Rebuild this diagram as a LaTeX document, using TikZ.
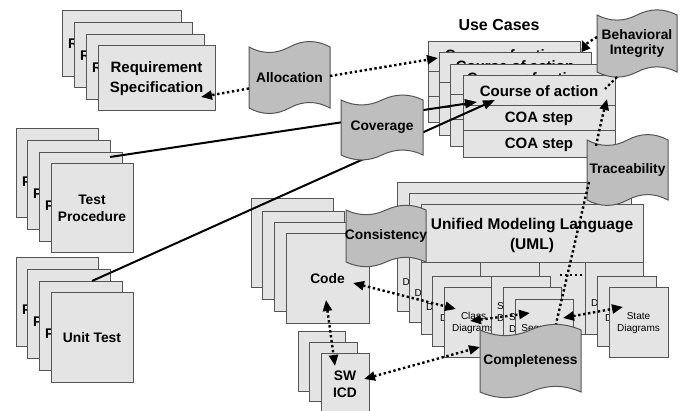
\documentclass[tikz,border=0pt]{standalone}
\usepackage{fontspec}
\setmainfont{Liberation Sans}
\usetikzlibrary{arrows.meta,calc}
\definecolor{sheetfill}{RGB}{228,228,228}
\definecolor{tapefill}{RGB}{190,190,190}
\definecolor{edgegray}{RGB}{85,85,85}
\tikzset{
 sheet/.style={draw=edgegray, fill=sheetfill, line width=1pt, inner sep=0pt, outer sep=0pt, rectangle},
 rowline/.style={draw=edgegray, line width=1pt},
 tapebody/.style={draw=edgegray, fill=tapefill, line width=1pt},
 tapetext/.style={inner sep=0pt, outer sep=0pt, align=center, font=\fontsize{13.8}{15.5}\selectfont\bfseries},
 bigtext/.style={font=\fontsize{15}{20}\selectfont\bfseries, align=center, inner sep=0pt},
 umltext/.style={font=\fontsize{15.5}{20}\selectfont\bfseries, align=center, inner sep=0pt},
 midtext/.style={font=\fontsize{13.8}{17}\selectfont\bfseries, align=center, inner sep=0pt},
 smalltext/.style={font=\fontsize{10}{12}\selectfont, align=center, inner sep=0pt},
 letter/.style={font=\fontsize{14}{14}\selectfont\bfseries, anchor=west, inner sep=0pt},
 dletter/.style={font=\fontsize{10}{10}\selectfont, anchor=west, inner sep=0pt},
 dotline/.style={line width=2.4pt, dash pattern=on 2.4pt off 2.6pt, black},
 dotarrow/.style={dotline, -{Triangle[length=11pt,width=9pt]}},
 dotboth/.style={dotline, {Triangle[length=11pt,width=9pt]}-{Triangle[length=11pt,width=9pt]}},
 solidarrow/.style={line width=2pt, black, -{Triangle[length=12pt,width=9pt]}},
}
% sheet: [style]{name}{x0}{y0}{x1}{y1}{text}
\newcommand\mksheet[7][]{%
 \pgfmathsetmacro\shw{#5-#3}\pgfmathsetmacro\shh{#6-#4}%
 \node[sheet,#1, anchor=north west, minimum width=\shw pt, minimum height=\shh pt] (#2) at (#3,#4) {#7};}
% tape: {name}{x0}{y0}{x1}{y1}{text}
\newcommand\mktape[6]{%
 \pgfmathsetmacro\tpw{#4-#2}\pgfmathsetmacro\tpa{0.06*(#5-#3)}%
 \pgfmathsetmacro\tpxa{#2+\tpw/6}\pgfmathsetmacro\tpxb{#2+\tpw/3}\pgfmathsetmacro\tpxc{#2+\tpw/2}%
 \pgfmathsetmacro\tpxd{#2+2*\tpw/3}\pgfmathsetmacro\tpxe{#2+5*\tpw/6}%
 \pgfmathsetmacro\tpya{#3+2*\tpa}\pgfmathsetmacro\tpyb{#3-2*\tpa}%
 \pgfmathsetmacro\tpyc{#5+2*\tpa}\pgfmathsetmacro\tpyd{#5-2*\tpa}%
 \path[tapebody] (#2,#3) .. controls (\tpxa,\tpya) and (\tpxb,\tpya) .. (\tpxc,#3) .. controls (\tpxd,\tpyb) and (\tpxe,\tpyb) .. (#4,#3) -- (#4,#5) .. controls (\tpxe,\tpyd) and (\tpxd,\tpyd) .. (\tpxc,#5) .. controls (\tpxb,\tpyc) and (\tpxa,\tpyc) .. (#2,#5) -- cycle;
 \pgfmathsetmacro\tph{#5-#3}%
 \node[tapetext, minimum width=\tpw pt, minimum height=\tph pt] (#1) at ({(#2+#4)/2},{(#3+#5)/2}) {#6};}
\begin{document}
\begin{tikzpicture}[x=1pt,y=-1pt]
\useasboundingbox (0,0) rectangle (681,411);

% Requirement Specification stack
\mksheet{r1}{62}{11}{181}{77}{}
\node[letter] (lr1) at (68,44) {R};
\mksheet{r2}{74}{23}{192}{88}{}
\node[letter] (lr2) at (80,56) {R};
\mksheet{r3}{86}{35}{204}{100}{}
\node[letter] (lr3) at (92,68) {R};
\mksheet[bigtext]{r4}{98}{46}{215}{111}{Requirement\\Specification}

% Test Procedure stack
\mksheet{t1}{16}{129}{98}{218}{}
\node[letter] (lt1) at (22,182) {P};
\mksheet{t2}{27}{141}{110}{230}{}
\node[letter] (lt2) at (33,194) {P};
\mksheet{t3}{39}{153}{122}{242}{}
\node[letter] (lt3) at (45,206) {P};
\mksheet[midtext]{t4}{51}{164}{133}{253}{Test\\Procedure}

% Unit Test stack
\mksheet{u1}{16}{258}{98}{347}{}
\node[letter] (lu1) at (22,310) {P};
\mksheet{u2}{27}{270}{110}{359}{}
\node[letter] (lu2) at (33,322) {P};
\mksheet{u3}{39}{282}{122}{371}{}
\node[letter] (lu3) at (45,334) {P};
\mksheet[midtext]{u4}{51}{293}{133}{383}{Unit Test}

% Use cases
\node[font=\fontsize{16}{16}\selectfont\bfseries, inner sep=0pt] (uctitle) at (499,25) {Use Cases};
\mksheet{ucA}{428}{42}{580}{123}{}
\draw[rowline] (428,72) -- (580,72) (428,97) -- (580,97);
\node[bigtext] (cA) at (504,55) {Course of action};
\mksheet{ucB}{439}{53}{591}{136}{}
\draw[rowline] (439,83) -- (591,83) (439,108) -- (591,108);
\node[bigtext] (cB) at (515,66) {Course of action};
\mksheet{ucC}{450}{65}{602}{147}{}
\draw[rowline] (450,95) -- (602,95) (450,120) -- (602,120);
\node[bigtext] (cC) at (526,78) {Course of action};
\mksheet{ucD}{463}{76}{615}{158}{}
\draw[rowline] (463,106) -- (615,106) (463,131) -- (615,131);
\node[bigtext] (coa) at (539,91) {Course of action};
\node[bigtext] (step1) at (539,118.5) {COA step};
\node[bigtext] (step2) at (539,144.5) {COA step};

% Code stack
\mksheet{c1}{251}{199}{333}{288}{}
\mksheet{c2}{262}{212}{344}{300}{}
\mksheet{c3}{274}{223}{356}{312}{}
\mksheet[midtext]{c4}{286}{234}{369}{324}{Code}

% SW ICD stack
\mksheet{s1}{298}{332}{345}{392}{}
\mksheet{s2}{309}{343}{357}{402}{}
\mksheet[midtext]{s3}{321}{354}{369}{414}{SW\\ICD}

% UML stack
\mksheet{m1}{397}{183}{619}{312}{}
\draw[rowline] (397,241) -- (619,241);
\node[dletter] (dm1) at (402.5,282) {D};
\mksheet{m2}{409}{194}{631}{323}{}
\draw[rowline] (409,252) -- (631,252);
\node[dletter] (dm2) at (414.5,293) {D};
\mksheet{m3}{421}{205}{643}{335}{}
\draw[rowline] (421,263) -- (643,263) (480,263) -- (480,335) (539,263) -- (539,335) (585,263) -- (585,335);
\node[umltext] (uml) at (532,235) {Unified Modeling Language\\(UML)};
\node[dletter] (dm3) at (426,307) {D};
\node[dletter] (dm4) at (591,303) {D};

% diagram stacks
\mksheet{cl1}{432}{277}{491}{347}{}
\node[dletter] (dcl1) at (440,318) {D};
\mksheet[smalltext]{cl2}{444}{288}{503}{358}{Class\\Diagrams}
\mksheet{sq1}{491}{277}{550}{347}{}
\node[dletter] (ssq1) at (497,306) {S};
\node[dletter] (dsq1) at (497,318) {D};
\mksheet{sq2}{503}{288}{561}{358}{}
\node[dletter] (ssq2) at (509,317) {S};
\node[dletter] (dsq2) at (509,329) {D};
\mksheet[smalltext]{sq3}{515}{300}{573}{370}{Sequence\\Diagrams}
\mksheet{st1}{597}{277}{656}{347}{}
\node[dletter] (dst1) at (605,318) {D};
\mksheet[smalltext]{st2}{609}{288}{668}{358}{State\\Diagrams}

% solid coverage lines (behind Coverage)
\coordinate (tpTail) at (110,157);
\coordinate (utTail) at (92,281);
\coordinate (coaTip1) at (477,102);
\coordinate (coaTip2) at (495,100);
\draw[solidarrow] (tpTail) -- (coaTip1);
\draw[solidarrow] (utTail) -- (coaTip2);

% tapes
\mktape{alloc}{249}{47}{330}{108}{Allocation}
\mktape{cover}{341}{100}{423}{155}{Coverage}
\mktape{bi}{597}{15}{677}{72}{Behavioral\\Integrity}
\mktape{trace}{587}{140}{668}{200}{Traceability}
\mktape{consist}{346}{210}{426}{262}{Consistency}
\mktape{complete}{480}{330}{581}{392}{Completeness}

% dotted connectors
\coordinate (reqTip) at (201,97);
\coordinate (ucTip) at (438,58);
\draw[dotarrow] ([yshift=-11pt]alloc.west) -- (reqTip);
\draw[dotarrow] ([yshift=1.5pt]alloc.east) -- (ucTip);
\coordinate (biTip) at (582,40);
\draw[dotarrow] ([yshift=6.5pt]bi.west) .. controls (584,45) .. (biTip);
\coordinate (coaR) at (605,89);
\draw[dotline] (617,77) -- (coaR);
\coordinate (traceTail) at (596,146);
\coordinate (coaTip3) at (607,99);
\draw[dotarrow] (traceTail) .. controls (601,122) .. (coaTip3);
\coordinate (codeR) at (353,283);
\coordinate (classL) at (456,309);
\draw[dotboth] (codeR) -- (classL);
\coordinate (codeB) at (326,300);
\coordinate (swT) at (335,366);
\draw[dotboth] (codeB) -- (swT);
\coordinate (swR) at (364,379);
\draw[dotboth] (swR) -- ([yshift=14pt]complete.west);
\coordinate (classR) at (470,321);
\coordinate (seqL) at (530,313);
\draw[dotboth] (classR) -- (seqL);
\coordinate (seqR) at (563,318);
\coordinate (stateL) at (623,307);
\draw[dotboth] (seqR) -- (stateL);
\coordinate (traceB) at (589,182);
\coordinate (compT) at (556,324);
\draw[dotline] (traceB) -- (compT);
\coordinate (dA) at (560,275);
\coordinate (dB) at (582,275);
\draw[dotline] (dA) -- (dB);
\end{tikzpicture}
\end{document}
